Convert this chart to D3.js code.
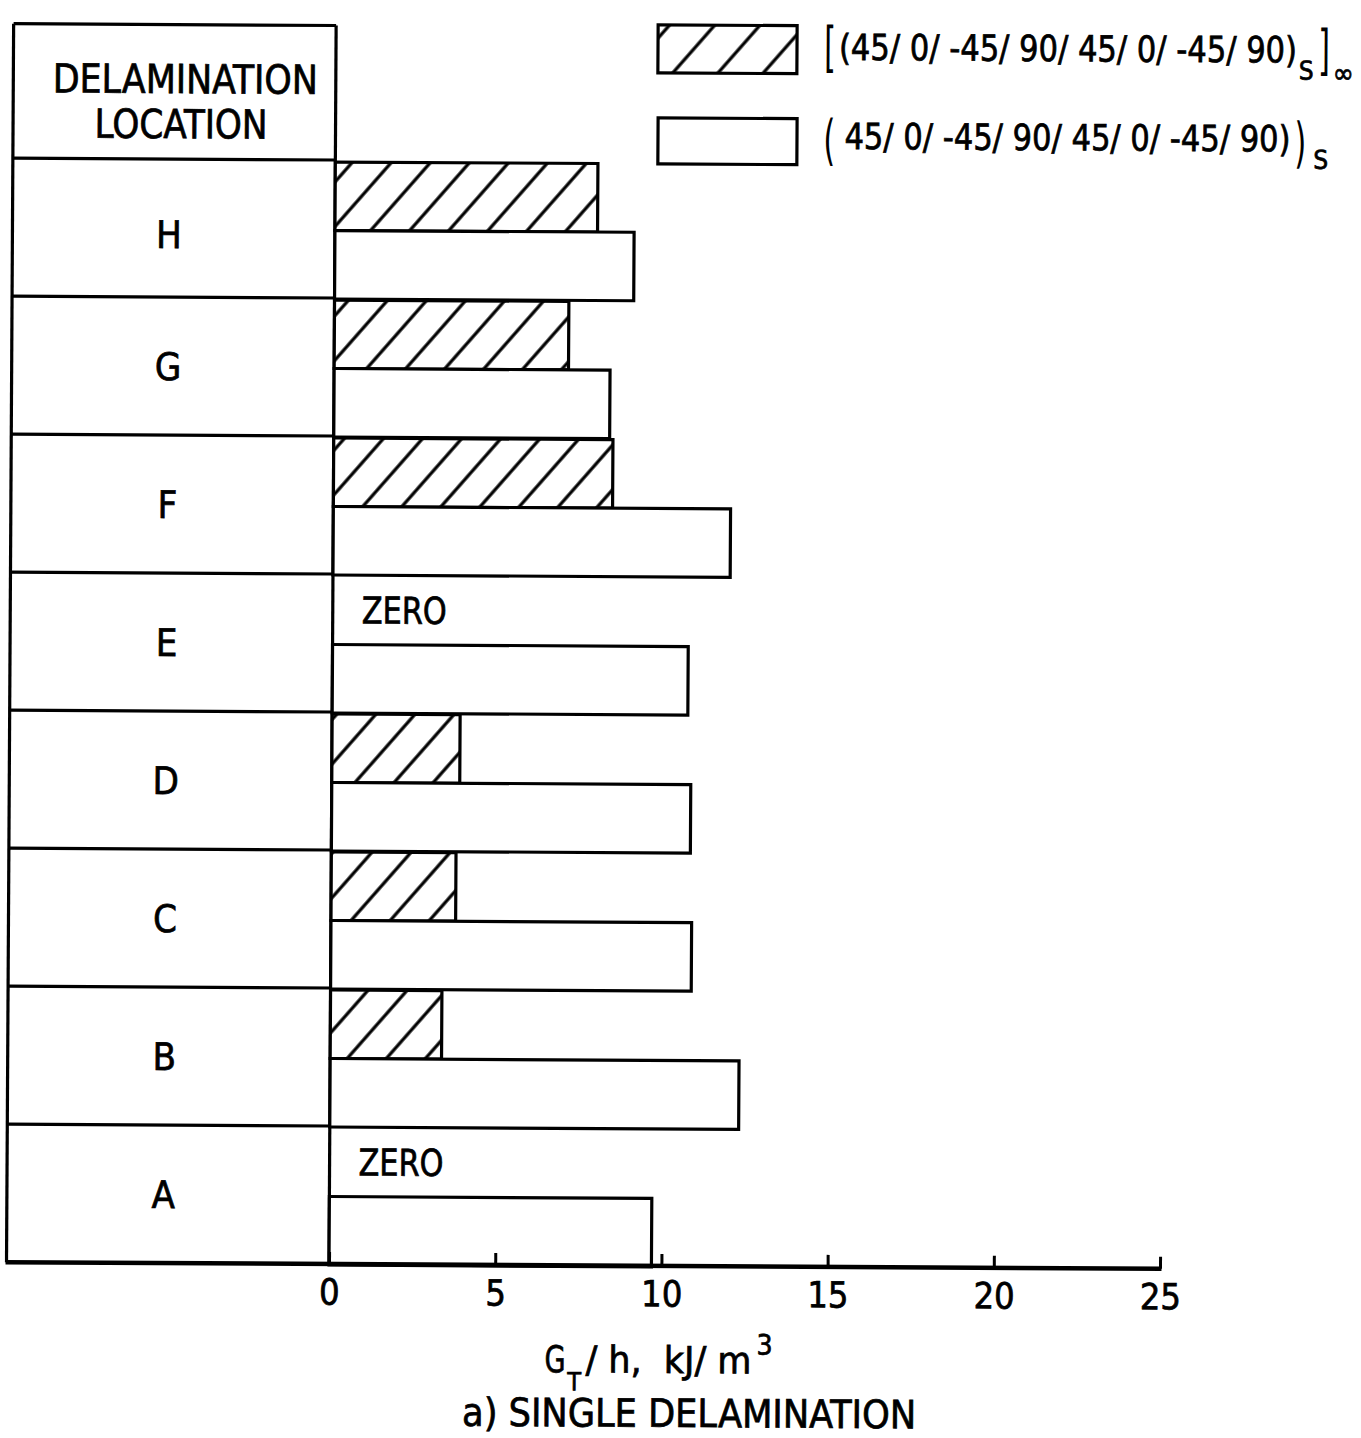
<!DOCTYPE html>
<html><head><meta charset="utf-8">
<script src="https://cdn.jsdelivr.net/npm/d3@7"></script>
<style>
body{margin:0;background:#fff}
text{font-family:'Liberation Sans Narrow','Arial Narrow','DejaVu Sans Condensed',sans-serif;fill:#000;stroke:#000;stroke-width:0.7px}
</style>
</head><body>
<svg id="c" width="1361" height="1438"></svg>
<script>
// ---- data ----
const locations = ["H","G","F","E","D","C","B","A"];
const seriesKeys = ["inf","s"];
const hatchedValues = [7.9, 7.05, 8.4, 0, 3.85, 3.75, 3.35, 0];   // [(...)s]∞
const openValues    = [9.0, 8.3, 11.95, 10.7, 10.8, 10.85, 12.3, 9.7]; // (...)s
const xTicks = [0, 5, 10, 15, 20, 25];
const legendText1 = "(45/ 0/ -45/ 90/ 45/ 0/ -45/ 90)";
const legendText2 = "45/ 0/ -45/ 90/ 45/ 0/ -45/ 90)";
const headerLines = ["DELAMINATION", "LOCATION"];
const zeroLabel = "ZERO";
const axisTitleParts = ["G", "T", "/ h,  kJ/ m", "3"];
const captionText = "a) SINGLE DELAMINATION";

// ---- layout ----
const svg = d3.select("#c");
const root = svg.append("g").attr("transform", "rotate(0.33,329,1264)");

const tableLeft = 6.5, tableTop = 25.5, headerBottom = 160, axisY = 1264;
const x = d3.scaleLinear().domain([0, 25]).range([329, 1160]);
const y = d3.scaleBand().domain(locations).range([headerBottom, axisY]);
const sub = d3.scaleBand().domain(seriesKeys).range([2, 139]);

const defs = svg.append("defs");
const pat = defs.append("pattern").attr("id","hatch").attr("patternUnits","userSpaceOnUse")
  .attr("width", 29.4).attr("height", 20).attr("patternTransform","rotate(41)");
pat.append("rect").attr("width",29.4).attr("height",20).attr("fill","#fff");
pat.append("line").attr("x1",14.7).attr("x2",14.7).attr("y1",-2).attr("y2",22)
  .attr("stroke","#000").attr("stroke-width",3.2);
const pat2 = defs.append("pattern").attr("id","hatchL").attr("patternUnits","userSpaceOnUse")
  .attr("width", 34).attr("height", 20).attr("patternTransform","translate(660,0) rotate(41)");
pat2.append("rect").attr("width",34).attr("height",20).attr("fill","#fff");
pat2.append("line").attr("x1",17).attr("x2",17).attr("y1",-2).attr("y2",22)
  .attr("stroke","#000").attr("stroke-width",3.2);

// table
const tbl = root.append("g").attr("fill","none").attr("stroke","#000").attr("stroke-width",3.2);
tbl.append("line").attr("x1",tableLeft).attr("x2",x(0)).attr("y1",tableTop).attr("y2",tableTop);
tbl.append("line").attr("x1",tableLeft).attr("x2",tableLeft).attr("y1",tableTop).attr("y2",axisY);
tbl.append("line").attr("x1",x(0)).attr("x2",x(0)).attr("y1",tableTop).attr("y2",axisY);
tbl.append("line").attr("x1",tableLeft).attr("x2",x(0)).attr("y1",headerBottom).attr("y2",headerBottom);
tbl.selectAll("line.row").data(locations.slice(1)).join("line").attr("class","row")
  .attr("x1",tableLeft).attr("x2",x(0)).attr("y1",d=>y(d)).attr("y2",d=>y(d));

// header text
root.append("text").attr("x",46).attr("y",94).attr("font-size",40)
  .attr("textLength",265).attr("lengthAdjust","spacingAndGlyphs").text(headerLines[0]);
root.append("text").attr("x",88).attr("y",139).attr("font-size",40)
  .attr("textLength",173).attr("lengthAdjust","spacingAndGlyphs").text(headerLines[1]);

// row letters
root.selectAll("text.loc").data(locations).join("text").attr("class","loc")
  .attr("x",163).attr("y",(d,i)=>y(d)+y.bandwidth()/2+14+(i===0?6:0)).attr("text-anchor","middle")
  .attr("font-size",38).text(d=>d);

// bars
const rows = locations.map((loc,i)=>({loc, inf:hatchedValues[i], s:openValues[i]}));
const barG = root.append("g");
rows.forEach(r=>{
  seriesKeys.forEach(k=>{
    const v = r[k];
    const y0 = y(r.loc) + sub(k);
    if (v > 0) {
      barG.append("rect").attr("x",x(0)).attr("y",y0)
        .attr("width",x(v)-x(0)).attr("height",sub.bandwidth())
        .attr("fill", k==="inf" ? "url(#hatch)" : "#fff")
        .attr("stroke","#000").attr("stroke-width",3.2);
    } else {
      barG.append("text").attr("x",x(0)+29).attr("y",y0+sub.bandwidth()/2+13)
        .attr("font-size",37).attr("textLength",85).attr("lengthAdjust","spacingAndGlyphs")
        .text(zeroLabel);
    }
  });
});

// x axis
const axis = d3.axisBottom(x).tickValues(xTicks).tickSizeInner(-12).tickSizeOuter(0).tickPadding(15);
const ax = root.append("g").attr("transform",`translate(0,${axisY})`).call(axis);
ax.select(".domain").remove();
ax.selectAll(".tick line").attr("stroke","#000").attr("stroke-width",3);
ax.selectAll(".tick text").attr("font-size",36).attr("fill","#000")
  .attr("font-family","'Liberation Sans Narrow','Arial Narrow','DejaVu Sans Condensed',sans-serif");
root.append("line").attr("x1",tableLeft-1).attr("x2",x(25)+1.5).attr("y1",axisY).attr("y2",axisY)
  .attr("stroke","#000").attr("stroke-width",4.5);

// axis title
root.append("text").attr("x",545).attr("y",1371).attr("font-size",37)
  .attr("textLength",21).attr("lengthAdjust","spacingAndGlyphs").text(axisTitleParts[0]);
root.append("text").attr("x",568).attr("y",1389).attr("font-size",25).text(axisTitleParts[1]);
root.append("text").attr("x",586).attr("y",1371).attr("font-size",37)
  .attr("textLength",166).attr("lengthAdjust","spacingAndGlyphs").attr("xml:space","preserve").text(axisTitleParts[2]);
root.append("text").attr("x",757).attr("y",1352).attr("font-size",28).text(axisTitleParts[3]);

// caption
root.append("text").attr("x",463).attr("y",1425).attr("font-size",39)
  .attr("textLength",454).attr("lengthAdjust","spacingAndGlyphs").text(captionText);

// legend
const lg = root.append("g");
lg.append("rect").attr("x",651).attr("y",23).attr("width",139).attr("height",48)
  .attr("fill","url(#hatchL)").attr("stroke","#000").attr("stroke-width",3.2);
lg.append("rect").attr("x",651.5).attr("y",116).attr("width",139).attr("height",46)
  .attr("fill","#fff").attr("stroke","#000").attr("stroke-width",3.2);
// tall bracket glyphs: normal-size text stretched vertically
function tallGlyph(g, ch, gx, gy) {
  g.append("text").attr("transform",`translate(${gx},${gy}) scale(1,1.6)`)
    .attr("font-size",34).style("stroke-width","0px").text(ch);
}
// line 1: [ (...)s ]∞
tallGlyph(lg, "[", 817, 63);
lg.append("text").attr("x",832).attr("y",57).attr("font-size",36)
  .attr("textLength",458).attr("lengthAdjust","spacingAndGlyphs").text(legendText1);
lg.append("text").attr("x",1292).attr("y",74).attr("font-size",26).text("S");
tallGlyph(lg, "]", 1311, 63);
lg.append("text").attr("x",1326).attr("y",77).attr("font-size",28).text("\u221E");
// line 2: ( ... ) s
tallGlyph(lg, "(", 817, 156);
lg.append("text").attr("x",838).attr("y",146).attr("font-size",36)
  .attr("textLength",446).attr("lengthAdjust","spacingAndGlyphs").text(legendText2);
tallGlyph(lg, ")", 1288, 156);
lg.append("text").attr("x",1307).attr("y",163).attr("font-size",26).text("S");
</script>
</body></html>
